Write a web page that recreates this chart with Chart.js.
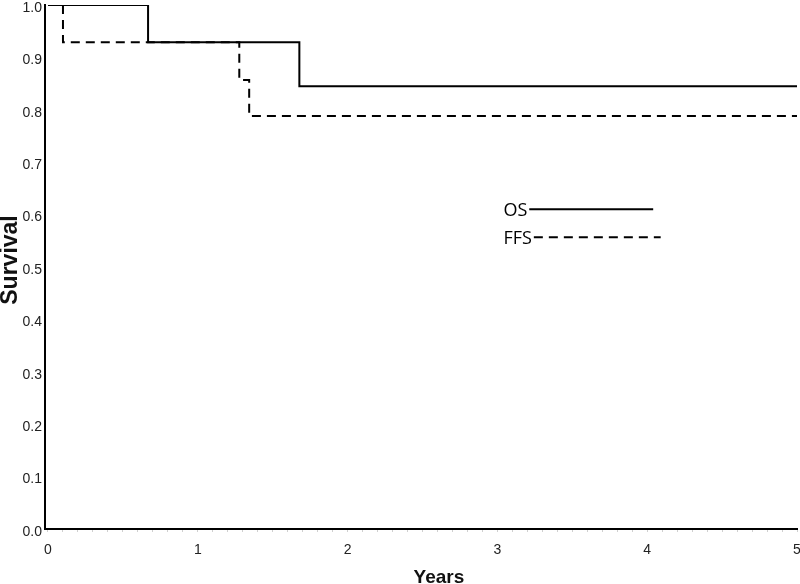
<!DOCTYPE html>
<html>
<head>
<meta charset="utf-8">
<script src="https://cdn.jsdelivr.net/npm/chart.js@4"></script>
<style>
	html, body { margin: 0; padding: 0; background: #fff; }
	canvas { display: block; }
</style>
</head>
<body>
<canvas id="km-chart" width="800" height="584"></canvas>
<script>
// Kaplan-Meier steps (years, survival)
const osTimes = [0, 0.668, 1.678, 5];
const osSurvival = [1.0, 0.929, 0.845, 0.845];
const ffsTimes = [0, 0.1, 1.277, 1.343, 5];
const ffsSurvival = [1.0, 0.929, 0.857, 0.788, 0.788];
const seriesNames = ['OS', 'FFS'];
const xTickLabels = ['0', '1', '2', '3', '4', '5'];
const axisTitles = { x: 'Years', y: 'Survival' };

const toPoints = (xs, ys) => xs.map((x, i) => ({ x, y: ys[i] }));

// legend sits inside the plot and axis titles are placed like the original
const extras = {
	id: 'extras',
	afterDatasetsDraw(chart) {
		const { ctx, chartArea, scales: { x, y } } = chart;
		const rows = [
			{ label: seriesNames[0], yVal: 0.61, dash: [], x1: 4.04 },
			{ label: seriesNames[1], yVal: 0.557, dash: [9, 6], x1: 4.09 }
		];
		const tx = x.getPixelForValue(3.04);
		ctx.save();
		ctx.font = '18px "Open Sans"';
		ctx.fillStyle = '#000';
		ctx.textBaseline = 'middle';
		rows.forEach((r) => {
			const py = y.getPixelForValue(r.yVal);
			ctx.fillText(r.label, tx, py + 2);
			const w = ctx.measureText(r.label).width;
			ctx.beginPath();
			ctx.setLineDash(r.dash);
			ctx.lineWidth = 2;
			ctx.strokeStyle = '#000';
			ctx.moveTo(tx + w + 2, py);
			ctx.lineTo(x.getPixelForValue(r.x1), py);
			ctx.stroke();
		});
		ctx.setLineDash([]);

		ctx.fillStyle = '#111';
		ctx.textAlign = 'center';
		ctx.textBaseline = 'alphabetic';
		ctx.font = 'bold 19px "Liberation Sans", Arial';
		ctx.fillText(axisTitles.x, x.getPixelForValue(2.61), chart.height - 1);

		ctx.font = 'bold 23px "Liberation Sans", Arial';
		ctx.translate(17, (chartArea.top + chartArea.bottom) / 2 - 7);
		ctx.rotate(-Math.PI / 2);
		ctx.fillText(axisTitles.y, 0, 0);
		ctx.restore();
	}
};

const canvas = document.getElementById('km-chart').getContext('2d');
const chart = new Chart(canvas, {
	type: 'line',
	data: {
		datasets: [
			{
				label: seriesNames[0],
				data: toPoints(osTimes, osSurvival),
				borderColor: '#000',
				borderWidth: 2,
				stepped: 'before',
				pointRadius: 0,
				fill: false
			},
			{
				label: seriesNames[1],
				data: toPoints(ffsTimes, ffsSurvival),
				borderColor: '#000',
				borderWidth: 2,
				borderDash: [9, 6],
				stepped: 'before',
				pointRadius: 0,
				fill: false
			}
		]
	},
	options: {
		responsive: false,
		animation: false,
		layout: { padding: { top: 5, right: 3, left: 0, bottom: 0 } },
		plugins: {
			legend: { display: false },
			tooltip: { enabled: false }
		},
		scales: {
			x: {
				type: 'linear',
				min: -0.02,
				max: 5,
				afterFit: (scale) => {
					scale.height = 55;
					scale.paddingLeft = 0;
					scale.paddingRight = 0;
				},
				afterBuildTicks: (scale) => {
					// minor ticks every 0.1 year, labels on whole years
					scale.ticks = Array.from({ length: 51 }, (_, i) => ({ value: i / 10 }));
				},
				border: { display: true, color: '#000', width: 2 },
				grid: {
					display: true,
					drawOnChartArea: false,
					drawTicks: true,
					tickLength: 3,
					color: '#d0d0d0'
				},
				ticks: {
					autoSkip: false,
					maxRotation: 0,
					padding: 10,
					color: '#222',
					font: { family: '"Liberation Sans", Arial', size: 14 },
					callback: (v) => {
						const r = Math.round(v);
						return Math.abs(v - r) < 1e-6 ? xTickLabels[r] : '';
					}
				},
				title: { display: false }
			},
			y: {
				min: 0,
				max: 1,
				afterFit: (scale) => {
					scale.width = 45;
					scale.paddingTop = 0;
					scale.paddingBottom = 0;
				},
				border: { display: true, color: '#000', width: 2 },
				grid: { display: false, drawTicks: false },
				ticks: {
					stepSize: 0.1,
					padding: 3,
					labelOffset: 3,
					color: '#222',
					font: { family: '"Liberation Sans", Arial', size: 14 },
					callback: (v) => v.toFixed(1)
				},
				title: { display: false }
			}
		}
	},
	plugins: [extras]
});
</script>
</body>
</html>
